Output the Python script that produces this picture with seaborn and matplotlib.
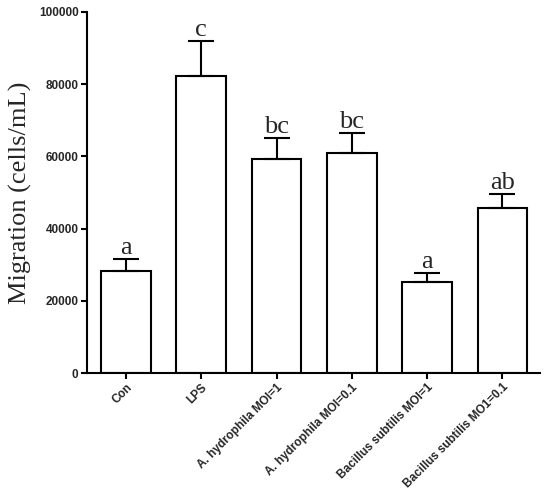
import numpy as np
import pandas as pd
import matplotlib
matplotlib.use('Agg')
import matplotlib.pyplot as plt
import seaborn as sns

# 数据
groups = ['Con', 'LPS', 'A. hydrophila MOI=1', 'A. hydrophila MOI=0.1',
          'Bacillus subtilis MOI=1', 'Bacillus subtilis MO1=0.1']
means = [28300, 82200, 59300, 60900, 25100, 45600]
err_top = [31600, 91900, 65000, 66600, 27800, 49700]
letters = ['a', 'c', 'bc', 'bc', 'a', 'ab']
y_ticks = [0, 20000, 40000, 60000, 80000, 100000]

sns.set_theme(style='ticks')
plt.rcParams['font.family'] = ['Liberation Sans', 'DejaVu Sans']

df = pd.DataFrame({'group': groups, 'mean': means})
sem = np.array(err_top) - np.array(means)

fig = plt.figure(figsize=(5.5, 4.99), dpi=100)
ax = fig.add_axes([0.158, 0.2525, 0.824, 0.7235])

sns.barplot(data=df, x='group', y='mean', color='white', edgecolor='black',
            linewidth=1.5, width=0.66, errorbar=None, ax=ax)
pos = np.arange(len(groups))
ax.errorbar(pos, means, yerr=[np.zeros(len(sem)), sem], fmt='none',
            ecolor='black', elinewidth=1.5, capsize=9.5, capthick=1.5, zorder=3)

# 显著性字母
for x, top, lab in zip(pos, err_top, letters):
    ax.annotate(lab, (x, top), xytext=(0, 0), textcoords='offset points',
                ha='center', va='bottom', fontsize=19, family='Liberation Serif')

ax.set_xlim(-0.52, 5.5)
ax.set_ylim(0, 100000)
ax.set_yticks(y_ticks)
ax.set_yticklabels([str(v) for v in y_ticks], fontsize=8.5, fontweight='bold')
ax.set_xticks(pos)
ax.set_xticklabels(groups, rotation=45, ha='right', rotation_mode='anchor',
                   fontsize=8.5, fontweight='bold')
ax.set_xlabel('')
ax.set_ylabel('Migration (cells/mL)', fontsize=19, family='Liberation Serif',
              labelpad=5)

for s in ['top', 'right']:
    ax.spines[s].set_visible(False)
for s in ['left', 'bottom']:
    ax.spines[s].set_linewidth(1.5)
    ax.spines[s].set_color('black')
ax.tick_params(axis='both', width=1.5, length=4, color='black', pad=2)

fig.savefig('out.png', dpi=100)
